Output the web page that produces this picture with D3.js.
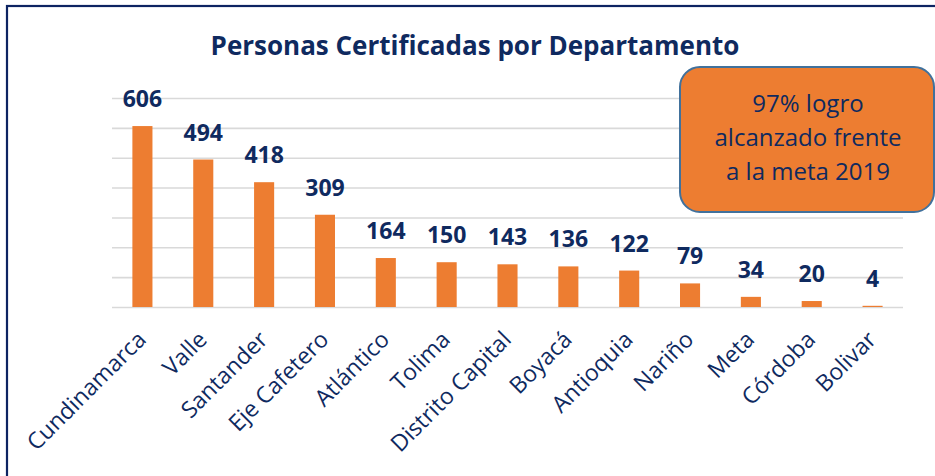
<!DOCTYPE html>
<html>
<head>
<meta charset="utf-8">
<script src="https://cdn.jsdelivr.net/npm/d3@7"></script>
<style>
  body { margin: 0; background: #fff; }
  text { font-family: "Open Sans", "Noto Sans", sans-serif; }
</style>
</head>
<body>
<div id="chart"></div>
<script>
// Data
var categories = ["Cundinamarca", "Valle", "Santander", "Eje Cafetero", "Atlántico", "Tolima",
                  "Distrito Capital", "Boyacá", "Antioquia", "Nariño", "Meta", "Córdoba", "Bolivar"];
var personas = [606, 494, 418, 309, 164, 150, 143, 136, 122, 79, 34, 20, 4];
var gridTicks = [0, 100, 200, 300, 400, 500, 600, 700];
var calloutLines = ["97% logro", "alcanzado frente", "a la meta 2019"];

var W = 935, H = 476;
var navy = "#0f2a5f";

var svg = d3.select("#chart").append("svg")
    .attr("width", W)
    .attr("height", H);

svg.append("rect").attr("width", W).attr("height", H).attr("fill", "#fff");

// outer frame (cut at right and bottom like the screenshot)
svg.append("rect")
   .attr("x", 7).attr("y", 6)
   .attr("width", W + 10).attr("height", H + 10)
   .attr("fill", "none")
   .attr("stroke", "#0d2462")
   .attr("stroke-width", 2.2);

// scales
var x = d3.scaleBand()
          .domain(categories)
          .range([112, 903])
          .paddingInner(0.67)
          .paddingOuter(0.335);

var y = d3.scaleLinear()
          .domain([0, 700])
          .range([307, 98]);

// gridlines
svg.append("g")
   .attr("class", "grid")
   .attr("transform", "translate(112,0)")
   .call(d3.axisLeft(y).tickValues(gridTicks).tickSize(-(903 - 112)).tickFormat(""))
   .call(function(g) {
       g.select(".domain").remove();
       g.selectAll(".tick line").attr("stroke", "#d9d9d9").attr("stroke-width", 1.6);
   });

// bars
svg.selectAll(".bar")
   .data(personas)
   .enter()
   .append("rect")
   .attr("class", "bar")
   .attr("x", function(d, i) { return x(categories[i]); })
   .attr("y", function(d) { return y(d); })
   .attr("width", x.bandwidth())
   .attr("height", function(d) { return y(0) - y(d); })
   .attr("fill", "#ed7d31");

// value labels
svg.selectAll(".val")
   .data(personas)
   .enter()
   .append("text")
   .attr("class", "val")
   .attr("x", function(d, i) { return x(categories[i]) + x.bandwidth() / 2; })
   .attr("y", function(d) { return y(d) - 19; })
   .attr("text-anchor", "middle")
   .attr("font-size", 23)
   .attr("font-weight", "bold")
   .attr("fill", navy)
   .text(function(d) { return d; });

// category labels, rotated
svg.selectAll(".cat")
   .data(categories)
   .enter()
   .append("text")
   .attr("class", "cat")
   .attr("text-anchor", "end")
   .attr("font-size", 23)
   .attr("fill", navy)
   .attr("transform", function(d) {
       var cx = x(d) + x.bandwidth() / 2 + 5;
       return "translate(" + cx + ",341) rotate(-45)";
   })
   .text(function(d) { return d; });

// title
svg.append("text")
   .attr("x", 475)
   .attr("y", 55)
   .attr("text-anchor", "middle")
   .attr("font-size", 26)
   .attr("font-weight", "bold")
   .attr("fill", navy)
   .text("Personas Certificadas por Departamento");

// callout box
svg.append("rect")
   .attr("x", 680).attr("y", 67)
   .attr("width", 254).attr("height", 145)
   .attr("rx", 20).attr("ry", 20)
   .attr("fill", "#ed7d31")
   .attr("stroke", "#41719c")
   .attr("stroke-width", 2);

svg.append("g")
   .selectAll("text")
   .data(calloutLines)
   .enter()
   .append("text")
   .attr("x", 808)
   .attr("y", function(d, i) { return 112 + i * 34; })
   .attr("text-anchor", "middle")
   .attr("font-size", 24)
   .attr("fill", navy)
   .text(function(d) { return d; });
</script>
</body>
</html>
